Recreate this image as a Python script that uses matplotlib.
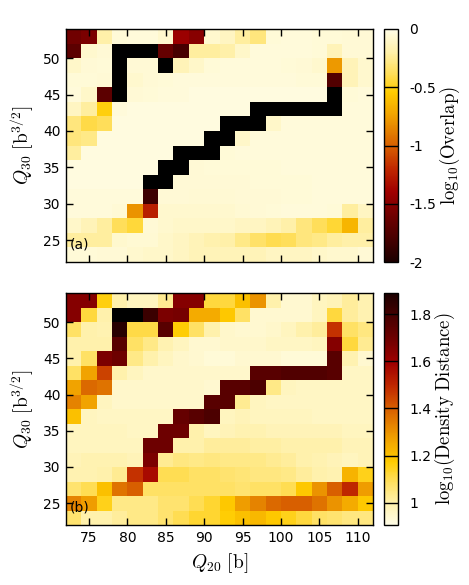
import matplotlib
matplotlib.use("Agg")
import matplotlib.pyplot as plt
import numpy as np
from matplotlib.colors import LinearSegmentedColormap

# grid centres
q20 = [73, 75, 77, 79, 81, 83, 85, 87, 89, 91, 93, 95, 97, 99, 101, 103, 105, 107, 109, 111]
q30 = [53, 51, 49, 47, 45, 43, 41, 39, 37, 35, 33, 31, 29, 27, 25, 23]  # top row first

# log10(Overlap); -3 = below colour range (black path)
overlap = [
    [-1.6, -1.55, -0.2, -0.05, -0.04, -0.04, -0.08, -1.42, -1.5, -0.08, -0.12, -0.22, -0.3, -0.05, -0.04, -0.04, -0.05, -0.05, -0.06, -0.06],
    [-1.7, -0.08, -0.06, -3, -3, -3, -1.65, -1.8, -0.22, -0.22, -0.2, -0.1, -0.04, -0.04, -0.04, -0.04, -0.05, -0.15, -0.06, -0.06],
    [-0.1, -0.06, -0.05, -3, -0.06, -0.06, -3, -0.15, -0.1, -0.05, -0.04, -0.04, -0.04, -0.04, -0.05, -0.06, -0.08, -0.78, -0.15, -0.08],
    [-0.05, -0.05, -0.06, -3, -0.08, -0.06, -0.05, -0.04, -0.04, -0.04, -0.04, -0.04, -0.04, -0.04, -0.04, -0.05, -0.05, -1.75, -0.15, -0.08],
    [-0.04, -0.1, -1.7, -3, -0.06, -0.05, -0.04, -0.04, -0.03, -0.03, -0.03, -0.03, -0.03, -0.03, -0.03, -0.03, -0.03, -3, -0.05, -0.04],
    [-0.12, -0.22, -0.52, -0.04, -0.03, -0.03, -0.03, -0.03, -0.03, -0.03, -0.03, -0.03, -3, -3, -3, -3, -3, -3, -0.04, -0.04],
    [-0.3, -0.42, -0.38, -0.03, -0.03, -0.03, -0.03, -0.03, -0.03, -0.03, -3, -3, -3, -0.1, -0.04, -0.04, -0.04, -0.04, -0.04, -0.04],
    [-0.3, -0.28, -0.03, -0.03, -0.03, -0.03, -0.03, -0.03, -0.03, -3, -3, -0.1, -0.04, -0.04, -0.04, -0.04, -0.04, -0.04, -0.04, -0.04],
    [-0.22, -0.03, -0.03, -0.03, -0.03, -0.03, -0.03, -3, -3, -3, -0.05, -0.04, -0.04, -0.04, -0.04, -0.04, -0.04, -0.04, -0.04, -0.04],
    [-0.03, -0.03, -0.03, -0.03, -0.03, -0.03, -3, -3, -0.06, -0.05, -0.05, -0.05, -0.05, -0.05, -0.04, -0.04, -0.04, -0.04, -0.04, -0.04],
    [-0.03, -0.03, -0.03, -0.03, -0.03, -3, -3, -0.06, -0.06, -0.06, -0.06, -0.06, -0.05, -0.05, -0.05, -0.05, -0.04, -0.04, -0.04, -0.04],
    [-0.04, -0.04, -0.04, -0.04, -0.04, -1.85, -0.06, -0.06, -0.07, -0.07, -0.07, -0.06, -0.06, -0.06, -0.05, -0.05, -0.04, -0.04, -0.04, -0.04],
    [-0.04, -0.04, -0.04, -0.06, -0.8, -1.25, -0.08, -0.08, -0.08, -0.08, -0.08, -0.07, -0.06, -0.05, -0.04, -0.04, -0.04, -0.05, -0.22, -0.12],
    [-0.1, -0.15, -0.22, -0.38, -0.44, -0.06, -0.08, -0.1, -0.1, -0.1, -0.1, -0.12, -0.12, -0.15, -0.2, -0.3, -0.38, -0.45, -0.65, -0.22],
    [-0.22, -0.22, -0.22, -0.08, -0.07, -0.07, -0.1, -0.12, -0.15, -0.18, -0.2, -0.28, -0.35, -0.4, -0.38, -0.3, -0.28, -0.22, -0.2, -0.2],
    [-0.05, -0.05, -0.06, -0.06, -0.08, -0.1, -0.1, -0.12, -0.15, -0.15, -0.15, -0.15, -0.15, -0.12, -0.12, -0.12, -0.1, -0.08, -0.08, -0.06],
]

# log10(Density Distance)
density = [
    [1.65, 1.65, 1.16, 1.0, 0.97, 0.97, 1.03, 1.65, 1.65, 1.12, 1.12, 1.2, 1.3, 1.0, 0.94, 0.94, 0.97, 0.98, 1.02, 0.99],
    [1.65, 1.12, 1.0, 1.95, 1.95, 1.82, 1.67, 1.68, 1.25, 1.25, 1.18, 1.08, 0.94, 0.94, 0.94, 0.94, 0.97, 1.12, 1.02, 0.99],
    [1.08, 1.0, 0.99, 1.86, 1.11, 1.11, 1.75, 1.17, 1.08, 1.0, 0.95, 0.94, 0.94, 0.95, 0.97, 1.0, 1.02, 1.48, 1.08, 1.05],
    [1.0, 1.0, 1.0, 1.75, 1.08, 1.04, 0.99, 0.97, 0.94, 0.94, 0.95, 0.95, 0.95, 0.96, 0.96, 0.96, 0.97, 1.65, 1.12, 1.03],
    [1.0, 1.08, 1.67, 1.7, 1.04, 1.0, 0.97, 0.95, 0.94, 0.93, 0.93, 0.94, 0.94, 0.94, 0.93, 0.93, 0.93, 1.75, 0.99, 0.94],
    [1.08, 1.27, 1.45, 1.0, 0.97, 0.95, 0.95, 0.95, 0.95, 0.95, 0.95, 0.95, 1.75, 1.75, 1.77, 1.77, 1.77, 1.75, 0.96, 0.96],
    [1.27, 1.38, 1.36, 0.95, 0.95, 0.95, 0.95, 0.95, 0.95, 0.94, 1.75, 1.75, 1.78, 1.04, 0.97, 0.96, 0.96, 0.96, 0.96, 0.96],
    [1.33, 1.27, 0.97, 0.95, 0.95, 0.95, 0.95, 0.95, 0.95, 1.75, 1.75, 1.03, 0.97, 0.96, 0.96, 0.96, 0.96, 0.96, 0.96, 0.96],
    [1.2, 0.97, 0.96, 0.96, 0.96, 0.96, 0.96, 1.72, 1.75, 1.78, 0.97, 0.98, 0.97, 0.97, 0.97, 0.97, 0.96, 0.96, 0.96, 0.96],
    [0.97, 0.97, 0.97, 0.97, 0.96, 0.96, 1.7, 1.7, 1.0, 0.97, 0.98, 0.99, 0.99, 0.98, 0.98, 0.98, 0.98, 0.98, 0.97, 0.97],
    [0.97, 0.97, 0.97, 0.97, 0.97, 1.7, 1.7, 1.0, 1.0, 1.02, 1.02, 1.02, 1.01, 1.01, 1.0, 1.0, 1.0, 1.0, 0.98, 0.98],
    [0.98, 0.99, 0.99, 0.99, 0.98, 1.67, 1.03, 1.05, 1.04, 1.05, 1.04, 1.04, 1.04, 1.03, 1.02, 1.0, 0.99, 0.98, 0.97, 0.98],
    [0.99, 0.99, 1.0, 1.03, 1.48, 1.57, 1.1, 1.1, 1.08, 1.08, 1.07, 1.06, 1.05, 1.05, 1.04, 1.02, 1.0, 0.99, 1.23, 1.15],
    [1.07, 1.1, 1.2, 1.36, 1.4, 1.08, 1.08, 1.08, 1.08, 1.08, 1.08, 1.07, 1.08, 1.08, 1.1, 1.18, 1.3, 1.4, 1.5, 1.28],
    [1.33, 1.28, 1.15, 1.04, 1.04, 1.04, 1.07, 1.07, 1.1, 1.13, 1.18, 1.28, 1.33, 1.38, 1.4, 1.4, 1.36, 1.3, 1.25, 1.18],
    [1.07, 1.0, 1.0, 1.02, 1.04, 1.04, 1.07, 1.1, 1.13, 1.13, 1.17, 1.2, 1.22, 1.18, 1.15, 1.12, 1.08, 1.07, 1.05, 1.05],
]

overlap_ticks = [0, -0.5, -1, -1.5, -2]
overlap_ticklabels = ["0", "-0.5", "-1", "-1.5", "-2"]
density_ticks = [1.0, 1.2, 1.4, 1.6, 1.8]
density_ticklabels = ["1", "1.2", "1.4", "1.6", "1.8"]

# light -> dark palette
palette = LinearSegmentedColormap.from_list("heat", [
    (0.0, "#fffde6"), (0.1, "#fff0a8"), (0.2, "#ffdc50"), (0.27, "#ffcc00"),
    (0.375, "#f0a000"), (0.5, "#d86000"), (0.6, "#c02800"), (0.7, "#a00000"),
    (0.8, "#700000"), (0.9, "#480000"), (1.0, "#1c0000"),
])
cmap_top = palette.reversed()
cmap_top.set_under("black")
cmap_bot = palette.copy()
cmap_bot.set_over("black")

plt.rcParams["font.family"] = "DejaVu Sans"
plt.rcParams["mathtext.fontset"] = "cm"

W, H = 469, 585
fig = plt.figure(figsize=(W / 100, H / 100), dpi=100)


def box(x0, y0, x1, y1):
    return [x0 / W, 1 - y1 / H, (x1 - x0) / W, (y1 - y0) / H]


x_edges = np.append(np.array(q20) - 1, q20[-1] + 1)
y_edges = np.append(np.array(q30) + 1, q30[-1] - 1)

ax1 = fig.add_axes(box(66, 29, 373, 262))
ax2 = fig.add_axes(box(66, 293, 373, 525))
cax1 = fig.add_axes(box(384, 29, 398, 262))
cax2 = fig.add_axes(box(384, 293, 398, 525))

m1 = ax1.pcolormesh(x_edges, y_edges, np.array(overlap), cmap=cmap_top, vmin=-2, vmax=0)
m2 = ax2.pcolormesh(x_edges, y_edges, np.array(density), cmap=cmap_bot, vmin=0.905, vmax=1.89)

for ax, tag in [(ax1, "(a)"), (ax2, "(b)")]:
    ax.set_xlim(72, 112)
    ax.set_ylim(22, 54)
    ax.set_xticks([75, 80, 85, 90, 95, 100, 105, 110])
    ax.set_yticks([25, 30, 35, 40, 45, 50])
    ax.tick_params(direction="in", top=True, right=True, length=5, width=1,
                   labelsize=10, colors="black", pad=4)
    for s in ax.spines.values():
        s.set_linewidth(1)
    ax.set_ylabel(r"$Q_{30}\ [\mathrm{b}^{3/2}]$", fontsize=14, labelpad=5)
    ax.text(0.013, 0.06, tag, transform=ax.transAxes, fontsize=10)

ax1.tick_params(labelbottom=False)
ax2.set_xlabel(r"$Q_{20}\ [\mathrm{b}]$", fontsize=14, labelpad=5)

for cax, mesh, ticks, labels, title in [
    (cax1, m1, overlap_ticks, overlap_ticklabels, r"$\mathrm{log}_{10}(\mathrm{Overlap})$"),
    (cax2, m2, density_ticks, density_ticklabels, r"$\mathrm{log}_{10}(\mathrm{Density\ Distance})$"),
]:
    cb = fig.colorbar(mesh, cax=cax)
    cb.set_ticks(ticks)
    cb.set_ticklabels(labels)
    cb.outline.set_linewidth(1)
    cax.tick_params(length=0, labelsize=10, pad=8)
    lo, hi = mesh.get_clim()
    for t in ticks:
        if lo < t < hi:
            cax.axhline(t, color="black", linewidth=1)
    cb.set_label(title, fontsize=13.5, labelpad=1)

fig.savefig("out.png", dpi=100)
